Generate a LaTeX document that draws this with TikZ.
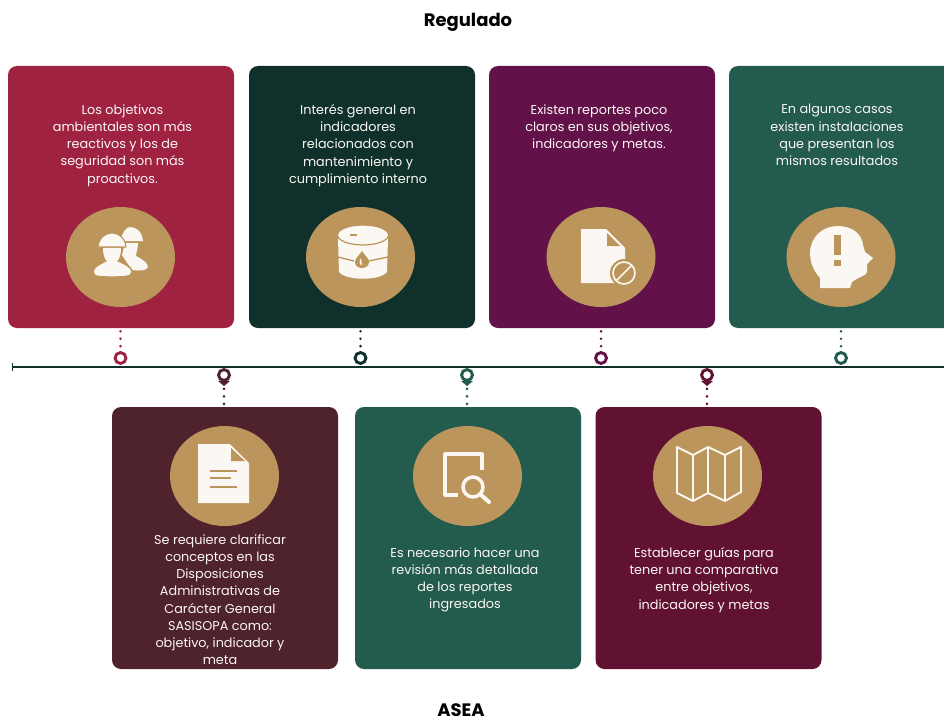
\documentclass[tikz,border=0pt]{standalone}
\usepackage{fontspec}
\setmainfont{Poppins}
\usetikzlibrary{shapes.geometric}
\definecolor{cardred}{HTML}{9F2241}
\definecolor{carddark}{HTML}{10312B}
\definecolor{cardpurple}{HTML}{621149}
\definecolor{cardgreen}{HTML}{235B4E}
\definecolor{cardbrown}{HTML}{4F232B}
\definecolor{cardwine}{HTML}{611232}
\definecolor{gold}{HTML}{BC955C}
\definecolor{cream}{HTML}{FBF8F3}
\tikzset{
	card/.style={rectangle, fill=#1, rounded corners=6.75pt, minimum width=169.5pt, minimum height=196.5pt, inner sep=0pt},
	badge/.style={ellipse, fill=gold, minimum width=81.75pt, minimum height=75pt, inner sep=0pt},
	cardtext/.style={anchor=north, align=center, text=cream, inner sep=0pt, font=\fontsize{9.6}{12.95}\selectfont},
	pinring/.style={circle, draw=#1, fill=white, line width=2.2pt, minimum size=8.2pt, inner sep=0pt},
	dotline/.style={draw=#1, line width=2.2pt, line cap=round, dash pattern=on 0pt off 5.6pt},
	title/.style={font=\fontsize{13.5}{16}\selectfont\bfseries, text=black, inner sep=0pt}
}

\begin{document}
\begin{tikzpicture}[x=0.75pt, y=-0.75pt]
	%%%%% START %%%%%
	\useasboundingbox (0, 0) rectangle (944, 717);

	\node[title] (regulado) at (468, 22) {Regulado};
	\node[title] (asea) at (461, 710) {ASEA};

	\coordinate (tstart) at (12, 367);
	\coordinate (tend) at (944, 367);
	\draw[line width=1.9pt, color=carddark] (tstart) -- (tend);
	\draw[line width=0.5pt, color=carddark] (12, 363) -- (12, 371);

	%%%%% TOP ROW %%%%%
	\node[card=cardred] (obj) at (121, 197) {};
	\node[card=carddark] (barrel) at (362, 197) {};
	\node[card=cardpurple] (report) at (602, 197) {};
	\node[card=cardgreen] (facility) at (842, 197) {};

	\node[badge] (objbadge) at (120.5, 257) {};
	\node[badge] (barrelbadge) at (360.5, 257) {};
	\node[badge] (reportbadge) at (601, 257) {};
	\node[badge] (facilitybadge) at (841, 257) {};

	\node[cardtext] (objtext) at (122.5, 104) {Los objetivos\\ambientales son más\\reactivos y los de\\seguridad son más\\proactivos.};
	\node[cardtext] (barreltext) at (358, 104) {Interés general en\\indicadores\\relacionados con\\mantenimiento y\\cumplimiento interno};
	\node[cardtext] (reporttext) at (599, 104) {Existen reportes poco\\claros en sus objetivos,\\indicadores y metas.};
	\node[cardtext] (facilitytext) at (837, 104) {En algunos casos\\existen instalaciones\\que presentan los\\mismos resultados};

	\node[pinring=cardred] (objpin) at (120.5, 358) {};
	\node[pinring=carddark] (barrelpin) at (360.5, 358) {};
	\node[pinring=cardpurple] (reportpin) at (601, 358) {};
	\node[pinring=cardgreen] (facilitypin) at (841, 358) {};

	\draw[dotline=cardred, shorten <=2.25pt] (objpin |- obj.south) -- (objpin.north);
	\draw[dotline=carddark, shorten <=2.25pt] (barrelpin |- barrel.south) -- (barrelpin.north);
	\draw[dotline=cardpurple, shorten <=2.25pt] (reportpin |- report.south) -- (reportpin.north);
	\draw[dotline=cardgreen, shorten <=2.25pt] (facilitypin |- facility.south) -- (facilitypin.north);

	%%%%% BOTTOM ROW %%%%%
	\node[card=cardbrown] (concept) at (225, 538) {};
	\node[card=cardgreen] (review) at (468, 538) {};
	\node[card=cardwine] (guide) at (708.5, 538) {};

	\node[badge] (conceptbadge) at (224.5, 476) {};
	\node[badge] (reviewbadge) at (467.5, 476) {};
	\node[badge] (guidebadge) at (707.5, 476) {};

	\node[cardtext] (concepttext) at (220, 534) {Se requiere clarificar\\conceptos en las\\Disposiciones\\Administrativas de\\Carácter General\\SASISOPA como:\\objetivo, indicador y\\meta};
	\node[cardtext] (reviewtext) at (465, 547) {Es necesario hacer una\\revisión más detallada\\de los reportes\\ingresados};
	\node[cardtext] (guidetext) at (704, 547) {Establecer guías para\\tener una comparativa\\entre objetivos,\\indicadores y metas};

	\node[pinring=cardbrown] (conceptpin) at (224, 375) {};
	\node[pinring=cardgreen] (reviewpin) at (467, 375) {};
	\node[pinring=cardwine] (guidepin) at (707, 375) {};

	\fill[cardbrown] (218, 381) -- (230, 381) -- (224, 386) -- cycle;
	\fill[cardgreen] (461, 381) -- (473, 381) -- (467, 386) -- cycle;
	\fill[cardwine] (701, 381) -- (713, 381) -- (707, 386) -- cycle;

	\draw[dotline=cardbrown, shorten <=5.25pt] (conceptpin.south) -- (conceptpin |- concept.north);
	\draw[dotline=cardgreen, shorten <=5.25pt] (reviewpin.south) -- (reviewpin |- review.north);
	\draw[dotline=cardwine, shorten <=5.25pt] (guidepin.south) -- (guidepin |- guide.north);

	%%%%% ICONS %%%%%
	% two workers
	\fill[cream] (121, 241) -- (143, 241) .. controls (142, 232) and (137, 227) .. (130, 227) .. controls (125, 228) and (122, 233) .. (121, 241) -- cycle;
	\fill[cream] (125, 243) -- (138, 243) .. controls (138, 249) and (136, 253) .. (136, 256) .. controls (142, 259) and (148, 263) .. (148, 267) .. controls (147, 271) and (138, 271) .. (132, 270) -- (122, 255) -- cycle;
	\draw[gold, line width=1.1pt, fill=cream] (112, 258) .. controls (104, 262) and (93, 266) .. (93, 272) .. controls (93, 277) and (100, 277) .. (112, 277) .. controls (124, 277) and (132, 277) .. (132, 272) .. controls (132, 266) and (120, 262) .. (112, 258) -- cycle;
	\fill[cream] (103, 248) -- (121, 248) .. controls (121, 258) and (117, 264) .. (112, 264) .. controls (107, 264) and (103, 258) .. (103, 248) -- cycle;
	\draw[gold, line width=0.8pt, fill=cream] (98, 247) -- (126, 247) .. controls (125, 238) and (119, 233) .. (112, 233) .. controls (105, 233) and (99, 238) .. (98, 247) -- cycle;

	% barrel
	\fill[cream] (338, 238) -- (388, 238) -- (387, 272) .. controls (380, 281) and (346, 281) .. (339, 272) -- cycle;
	\draw[gold, line width=0.9pt, fill=cream] (363, 235) ellipse (25.5 and 10);
	\draw[gold, line width=1pt] (350, 235) -- (357, 235);
	\draw[gold, line width=1pt] (338, 257) -- (354, 261);
	\draw[gold, line width=1pt] (369, 261) -- (388, 257);
	\fill[gold] (362, 251) .. controls (359, 256) and (355, 258) .. (355, 262) .. controls (355, 270) and (369, 270) .. (369, 262) .. controls (369, 258) and (365, 256) .. (362, 251) -- cycle;
	\fill[cream] (361, 258) .. controls (359, 261) and (359, 265) .. (362, 265) -- cycle;

	% document with ban sign
	\fill[cream] (581, 229) -- (606, 229) -- (625, 248) -- (625, 283) -- (581, 283) -- cycle;
	\fill[gold] (607, 233) -- (607, 246) -- (620, 246) -- cycle;
	\fill[gold] (624, 273) circle (14);
	\draw[cream, line width=1.2pt] (624, 273) circle (11);
	\draw[cream, line width=1.2pt] (616.5, 280.5) -- (631.5, 265.5);

	% head with warning
	\fill[cream] (820, 288) -- (820, 278) .. controls (813, 270) and (810, 262) .. (810, 252) .. controls (811, 236) and (823, 226) .. (838, 226) .. controls (852, 226) and (862, 234) .. (863, 245) -- (865, 252) -- (873, 258) -- (867, 264) -- (867, 272) .. controls (866, 276) and (860, 276) .. (852, 282) -- (850, 288) -- cycle;
	\fill[gold] (834, 235) rectangle (841, 255);
	\fill[gold] (834, 260) rectangle (841, 266);

	% document with text
	\fill[cream] (198, 444) -- (230, 444) -- (249, 463) -- (249, 503) -- (198, 503) -- cycle;
	\fill[gold] (231, 448) -- (231, 461) -- (245, 461) -- cycle;
	\draw[gold, line width=1pt] (210, 471) -- (237, 471);
	\draw[gold, line width=1pt] (210, 478) -- (231, 478);
	\draw[gold, line width=1pt] (210, 487) -- (237, 487);

	% magnifier
	\draw[cream, line width=2.4pt, line join=round] (482, 470) -- (482, 454) -- (445, 454) -- (445, 495) -- (458, 495);
	\draw[cream, line width=2.6pt] (473, 487) circle (10);
	\draw[cream, line width=3pt, line cap=round] (480, 494) -- (489, 502);

	% folded map
	\draw[cream, line width=1.4pt, line join=round] (677, 447) -- (693, 455) -- (708, 447) -- (725, 455) -- (741, 447) -- (741, 492) -- (725, 501) -- (708, 493) -- (693, 501) -- (677, 493) -- cycle;
	\draw[cream, line width=1.4pt] (693, 455) -- (693, 501);
	\draw[cream, line width=1.4pt] (708, 447) -- (708, 493);
	\draw[cream, line width=1.4pt] (725, 455) -- (725, 501);
	%%%%% END %%%%%
\end{tikzpicture}
\end{document}
